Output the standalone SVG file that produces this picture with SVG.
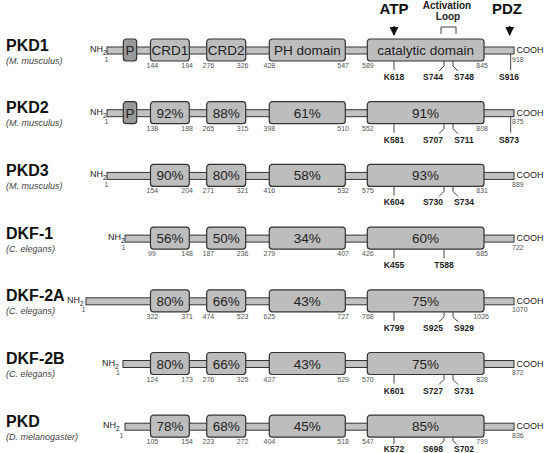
<svg xmlns="http://www.w3.org/2000/svg" width="551" height="453" viewBox="0 0 551 453">
<defs>
<style>
text{font-family:"Liberation Sans",Arial,sans-serif}
.bar{fill:#c2c2c2;stroke:#333;stroke-width:1}
.dom{fill:#bdbdbd;stroke:#333;stroke-width:1.2}
.pdom{fill:#999;stroke:#333;stroke-width:1.2}
.dt{font-size:13.5px;fill:#222;text-anchor:middle}
.num{font-size:7px;fill:#555}
.e{text-anchor:end}
.site{font-size:8.5px;font-weight:bold;fill:#222;text-anchor:middle}
.tick{stroke:#444;stroke-width:1;fill:none}
.title{font-size:16px;font-weight:bold;fill:#111}
.sp{font-size:9px;font-style:italic;fill:#444}
.nh{font-size:9px;fill:#222}
.top{font-size:15px;font-weight:bold;fill:#111;text-anchor:middle}
.act{font-size:10px;font-weight:bold;fill:#222;text-anchor:middle}
</style>
<marker id="ah" viewBox="0 0 10 10" refX="9" refY="5" markerWidth="6" markerHeight="6" orient="auto"><path d="M0 0L10 5L0 10z" fill="#111"/></marker>
</defs>

<g id="annotations">
<text class="top" x="394" y="13.5">ATP</text>
<text class="top" x="507" y="13.5">PDZ</text>
<text class="act" x="447" y="8.5">Activation</text>
<text class="act" x="448" y="19.5">Loop</text>
<path class="tick" d="M441 34V27H456V34" stroke="#222"/>
</g>
<g id="connectors">
<line x1="394" y1="26" x2="394" y2="35" stroke="#111" stroke-width="1.5" marker-end="url(#ah)"/>
<line x1="509.7" y1="26" x2="509.7" y2="35" stroke="#111" stroke-width="1.5" marker-end="url(#ah)"/>
</g>

<g id="pkd1" transform="translate(0,39)">
<text class="title" x="6" y="11.5">PKD1</text>
<text class="sp" x="6" y="24.5">(M. musculus)</text>
<text class="nh" x="90" y="13">NH<tspan font-size="6.5" dy="3">2</tspan></text>
<text class="num e" x="108.5" y="22.5">1</text>
<rect class="bar" x="107" y="8" width="407" height="7"/>
<rect class="pdom" x="123.3" y="0" width="13.4" height="22" rx="3"/>
<text class="dt" x="130" y="16">P</text>
<rect class="dom" x="150.5" y="0" width="38.8" height="22" rx="3"/>
<text class="dt" x="170" y="16">CRD1</text>
<rect class="dom" x="206.7" y="0" width="39" height="22" rx="3"/>
<text class="dt" x="226.2" y="16">CRD2</text>
<rect class="dom" x="269.3" y="0" width="76" height="22" rx="3"/>
<text class="dt" x="307.3" y="16">PH domain</text>
<rect class="dom" x="367.3" y="0" width="116.7" height="22" rx="3"/>
<text class="dt" x="425.6" y="16">catalytic domain</text>
<text class="num" x="146.5" y="29">144</text><text class="num e" x="193" y="29">194</text>
<text class="num" x="202.5" y="29">276</text><text class="num e" x="248.5" y="29">326</text>
<text class="num" x="263.5" y="29">428</text><text class="num e" x="349" y="29">547</text>
<text class="num" x="362" y="29">589</text><text class="num e" x="488" y="29">845</text>
<text class="nh" x="516.5" y="14">COOH</text>
<text class="num" x="512" y="22.5">918</text>
<line class="tick" x1="394" y1="22" x2="394" y2="31"/>
<path class="tick" d="M444 22v5l-5 5M453 22v5l5 5"/>
<line class="tick" x1="510.7" y1="15" x2="510.7" y2="31"/>
<text class="site" x="394" y="41">K618</text>
<text class="site" x="433" y="41">S744</text>
<text class="site" x="464" y="41">S748</text>
<text class="site" x="509" y="41">S916</text>
</g>

<g id="pkd2" transform="translate(0,101.7)">
<text class="title" x="6" y="11.5">PKD2</text>
<text class="sp" x="6" y="24.5">(M. musculus)</text>
<text class="nh" x="90" y="13">NH<tspan font-size="6.5" dy="3">2</tspan></text>
<text class="num e" x="108.5" y="22.5">1</text>
<rect class="bar" x="107" y="8" width="407" height="7"/>
<rect class="pdom" x="123.3" y="0" width="13.4" height="22" rx="3"/>
<text class="dt" x="130" y="16">P</text>
<rect class="dom" x="150.5" y="0" width="38.8" height="22" rx="3"/>
<text class="dt" x="170" y="16">92%</text>
<rect class="dom" x="206.7" y="0" width="39" height="22" rx="3"/>
<text class="dt" x="226.2" y="16">88%</text>
<rect class="dom" x="269.3" y="0" width="76" height="22" rx="3"/>
<text class="dt" x="307.3" y="16">61%</text>
<rect class="dom" x="367.3" y="0" width="116.7" height="22" rx="3"/>
<text class="dt" x="425.6" y="16">91%</text>
<text class="num" x="146.5" y="29">138</text><text class="num e" x="193" y="29">188</text>
<text class="num" x="202.5" y="29">265</text><text class="num e" x="248.5" y="29">315</text>
<text class="num" x="263.5" y="29">398</text><text class="num e" x="349" y="29">510</text>
<text class="num" x="362" y="29">552</text><text class="num e" x="488" y="29">808</text>
<text class="nh" x="516.5" y="14">COOH</text>
<text class="num" x="512" y="22.5">875</text>
<line class="tick" x1="394" y1="22" x2="394" y2="31"/>
<path class="tick" d="M444 22v5l-5 5M453 22v5l5 5"/>
<line class="tick" x1="510.7" y1="15" x2="510.7" y2="31"/>
<text class="site" x="394" y="41">K581</text>
<text class="site" x="433" y="41">S707</text>
<text class="site" x="464" y="41">S711</text>
<text class="site" x="509" y="41">S873</text>
</g>

<g id="pkd3" transform="translate(0,164.4)">
<text class="title" x="6" y="11.5">PKD3</text>
<text class="sp" x="6" y="24.5">(M. musculus)</text>
<text class="nh" x="90" y="13">NH<tspan font-size="6.5" dy="3">2</tspan></text>
<text class="num e" x="108.5" y="22.5">1</text>
<rect class="bar" x="107" y="8" width="407" height="7"/>
<rect class="dom" x="150.5" y="0" width="38.8" height="22" rx="3"/>
<text class="dt" x="170" y="16">90%</text>
<rect class="dom" x="206.7" y="0" width="39" height="22" rx="3"/>
<text class="dt" x="226.2" y="16">80%</text>
<rect class="dom" x="269.3" y="0" width="76" height="22" rx="3"/>
<text class="dt" x="307.3" y="16">58%</text>
<rect class="dom" x="367.3" y="0" width="116.7" height="22" rx="3"/>
<text class="dt" x="425.6" y="16">93%</text>
<text class="num" x="146.5" y="29">154</text><text class="num e" x="193" y="29">204</text>
<text class="num" x="202.5" y="29">271</text><text class="num e" x="248.5" y="29">321</text>
<text class="num" x="263.5" y="29">416</text><text class="num e" x="349" y="29">532</text>
<text class="num" x="362" y="29">575</text><text class="num e" x="488" y="29">831</text>
<text class="nh" x="516.5" y="14">COOH</text>
<text class="num" x="512" y="22.5">889</text>
<line class="tick" x1="394" y1="22" x2="394" y2="31"/>
<path class="tick" d="M444 22v5l-5 5M453 22v5l5 5"/>
<text class="site" x="394" y="41">K604</text>
<text class="site" x="433" y="41">S730</text>
<text class="site" x="464" y="41">S734</text>
</g>

<g id="dkf1" transform="translate(0,227.1)">
<text class="title" x="6" y="11.5">DKF-1</text>
<text class="sp" x="6" y="24.5">(C. elegans)</text>
<text class="nh" x="108" y="13">NH<tspan font-size="6.5" dy="3">2</tspan></text>
<text class="num e" x="125.5" y="22.5">1</text>
<rect class="bar" x="125" y="8" width="389" height="7"/>
<rect class="dom" x="150.5" y="0" width="38.8" height="22" rx="3"/>
<text class="dt" x="170" y="16">56%</text>
<rect class="dom" x="206.7" y="0" width="39" height="22" rx="3"/>
<text class="dt" x="226.2" y="16">50%</text>
<rect class="dom" x="269.3" y="0" width="76" height="22" rx="3"/>
<text class="dt" x="307.3" y="16">34%</text>
<rect class="dom" x="367.3" y="0" width="116.7" height="22" rx="3"/>
<text class="dt" x="425.6" y="16">60%</text>
<text class="num" x="148" y="29">99</text><text class="num e" x="193" y="29">148</text>
<text class="num" x="202.5" y="29">187</text><text class="num e" x="248.5" y="29">236</text>
<text class="num" x="263.5" y="29">279</text><text class="num e" x="349" y="29">407</text>
<text class="num" x="362" y="29">426</text><text class="num e" x="488" y="29">685</text>
<text class="nh" x="516.5" y="14">COOH</text>
<text class="num" x="512" y="22.5">722</text>
<line class="tick" x1="394" y1="22" x2="394" y2="31"/>
<line class="tick" x1="444" y1="22" x2="444" y2="31"/>
<text class="site" x="394" y="41">K455</text>
<text class="site" x="444" y="41">T588</text>
</g>

<g id="dkf2a" transform="translate(0,289.8)">
<text class="title" x="6" y="11.5">DKF-2A</text>
<text class="sp" x="6" y="24.5">(C. elegans)</text>
<text class="nh" x="67" y="13">NH<tspan font-size="6.5" dy="3">2</tspan></text>
<text class="num e" x="85.5" y="22.5">1</text>
<rect class="bar" x="86" y="8" width="428" height="7"/>
<rect class="dom" x="150.5" y="0" width="38.8" height="22" rx="3"/>
<text class="dt" x="170" y="16">80%</text>
<rect class="dom" x="206.7" y="0" width="39" height="22" rx="3"/>
<text class="dt" x="226.2" y="16">66%</text>
<rect class="dom" x="269.3" y="0" width="76" height="22" rx="3"/>
<text class="dt" x="307.3" y="16">43%</text>
<rect class="dom" x="367.3" y="0" width="116.7" height="22" rx="3"/>
<text class="dt" x="425.6" y="16">75%</text>
<text class="num" x="146.5" y="29">322</text><text class="num e" x="193" y="29">371</text>
<text class="num" x="202.5" y="29">474</text><text class="num e" x="248.5" y="29">523</text>
<text class="num" x="263.5" y="29">625</text><text class="num e" x="349" y="29">727</text>
<text class="num" x="362" y="29">768</text><text class="num e" x="489" y="29">1026</text>
<text class="nh" x="516.5" y="14">COOH</text>
<text class="num" x="512" y="22.5">1070</text>
<line class="tick" x1="394" y1="22" x2="394" y2="31"/>
<path class="tick" d="M444 22v5l-5 5M453 22v5l5 5"/>
<text class="site" x="394" y="41">K799</text>
<text class="site" x="433" y="41">S925</text>
<text class="site" x="464" y="41">S929</text>
</g>

<g id="dkf2b" transform="translate(0,352.5)">
<text class="title" x="6" y="11.5">DKF-2B</text>
<text class="sp" x="6" y="24.5">(C. elegans)</text>
<text class="nh" x="102" y="13">NH<tspan font-size="6.5" dy="3">2</tspan></text>
<text class="num e" x="120" y="22.5">1</text>
<rect class="bar" x="123" y="8" width="391" height="7"/>
<rect class="dom" x="150.5" y="0" width="38.8" height="22" rx="3"/>
<text class="dt" x="170" y="16">80%</text>
<rect class="dom" x="206.7" y="0" width="39" height="22" rx="3"/>
<text class="dt" x="226.2" y="16">66%</text>
<rect class="dom" x="269.3" y="0" width="76" height="22" rx="3"/>
<text class="dt" x="307.3" y="16">43%</text>
<rect class="dom" x="367.3" y="0" width="116.7" height="22" rx="3"/>
<text class="dt" x="425.6" y="16">75%</text>
<text class="num" x="146.5" y="29">124</text><text class="num e" x="193" y="29">173</text>
<text class="num" x="202.5" y="29">276</text><text class="num e" x="248.5" y="29">325</text>
<text class="num" x="263.5" y="29">427</text><text class="num e" x="349" y="29">529</text>
<text class="num" x="362" y="29">570</text><text class="num e" x="488" y="29">828</text>
<text class="nh" x="516.5" y="14">COOH</text>
<text class="num" x="512" y="22.5">872</text>
<line class="tick" x1="394" y1="22" x2="394" y2="31"/>
<path class="tick" d="M444 22v5l-5 5M453 22v5l5 5"/>
<text class="site" x="394" y="41">K601</text>
<text class="site" x="433" y="41">S727</text>
<text class="site" x="464" y="41">S731</text>
</g>

<g id="pkd" transform="translate(0,415.2)">
<text class="title" x="6" y="11.5">PKD</text>
<text class="sp" x="6" y="24.5">(D. melanogaster)</text>
<text class="nh" x="103" y="13">NH<tspan font-size="6.5" dy="3">2</tspan></text>
<text class="num e" x="123.5" y="22.5">1</text>
<rect class="bar" x="125" y="8" width="389" height="7"/>
<rect class="dom" x="150.5" y="0" width="38.8" height="22" rx="3"/>
<text class="dt" x="170" y="16">78%</text>
<rect class="dom" x="206.7" y="0" width="39" height="22" rx="3"/>
<text class="dt" x="226.2" y="16">68%</text>
<rect class="dom" x="269.3" y="0" width="76" height="22" rx="3"/>
<text class="dt" x="307.3" y="16">45%</text>
<rect class="dom" x="367.3" y="0" width="116.7" height="22" rx="3"/>
<text class="dt" x="425.6" y="16">85%</text>
<text class="num" x="146.5" y="29">105</text><text class="num e" x="193" y="29">154</text>
<text class="num" x="202.5" y="29">223</text><text class="num e" x="248.5" y="29">272</text>
<text class="num" x="263.5" y="29">404</text><text class="num e" x="349" y="29">518</text>
<text class="num" x="362" y="29">547</text><text class="num e" x="488" y="29">799</text>
<text class="nh" x="516.5" y="14">COOH</text>
<text class="num" x="512" y="22.5">836</text>
<line class="tick" x1="394" y1="22" x2="394" y2="29"/>
<path class="tick" d="M444 22v3.5l-4 4M453 22v3.5l4 4"/>
<text class="site" x="394" y="36.5">K572</text>
<text class="site" x="433" y="36.5">S698</text>
<text class="site" x="464" y="36.5">S702</text>
</g>
</svg>
